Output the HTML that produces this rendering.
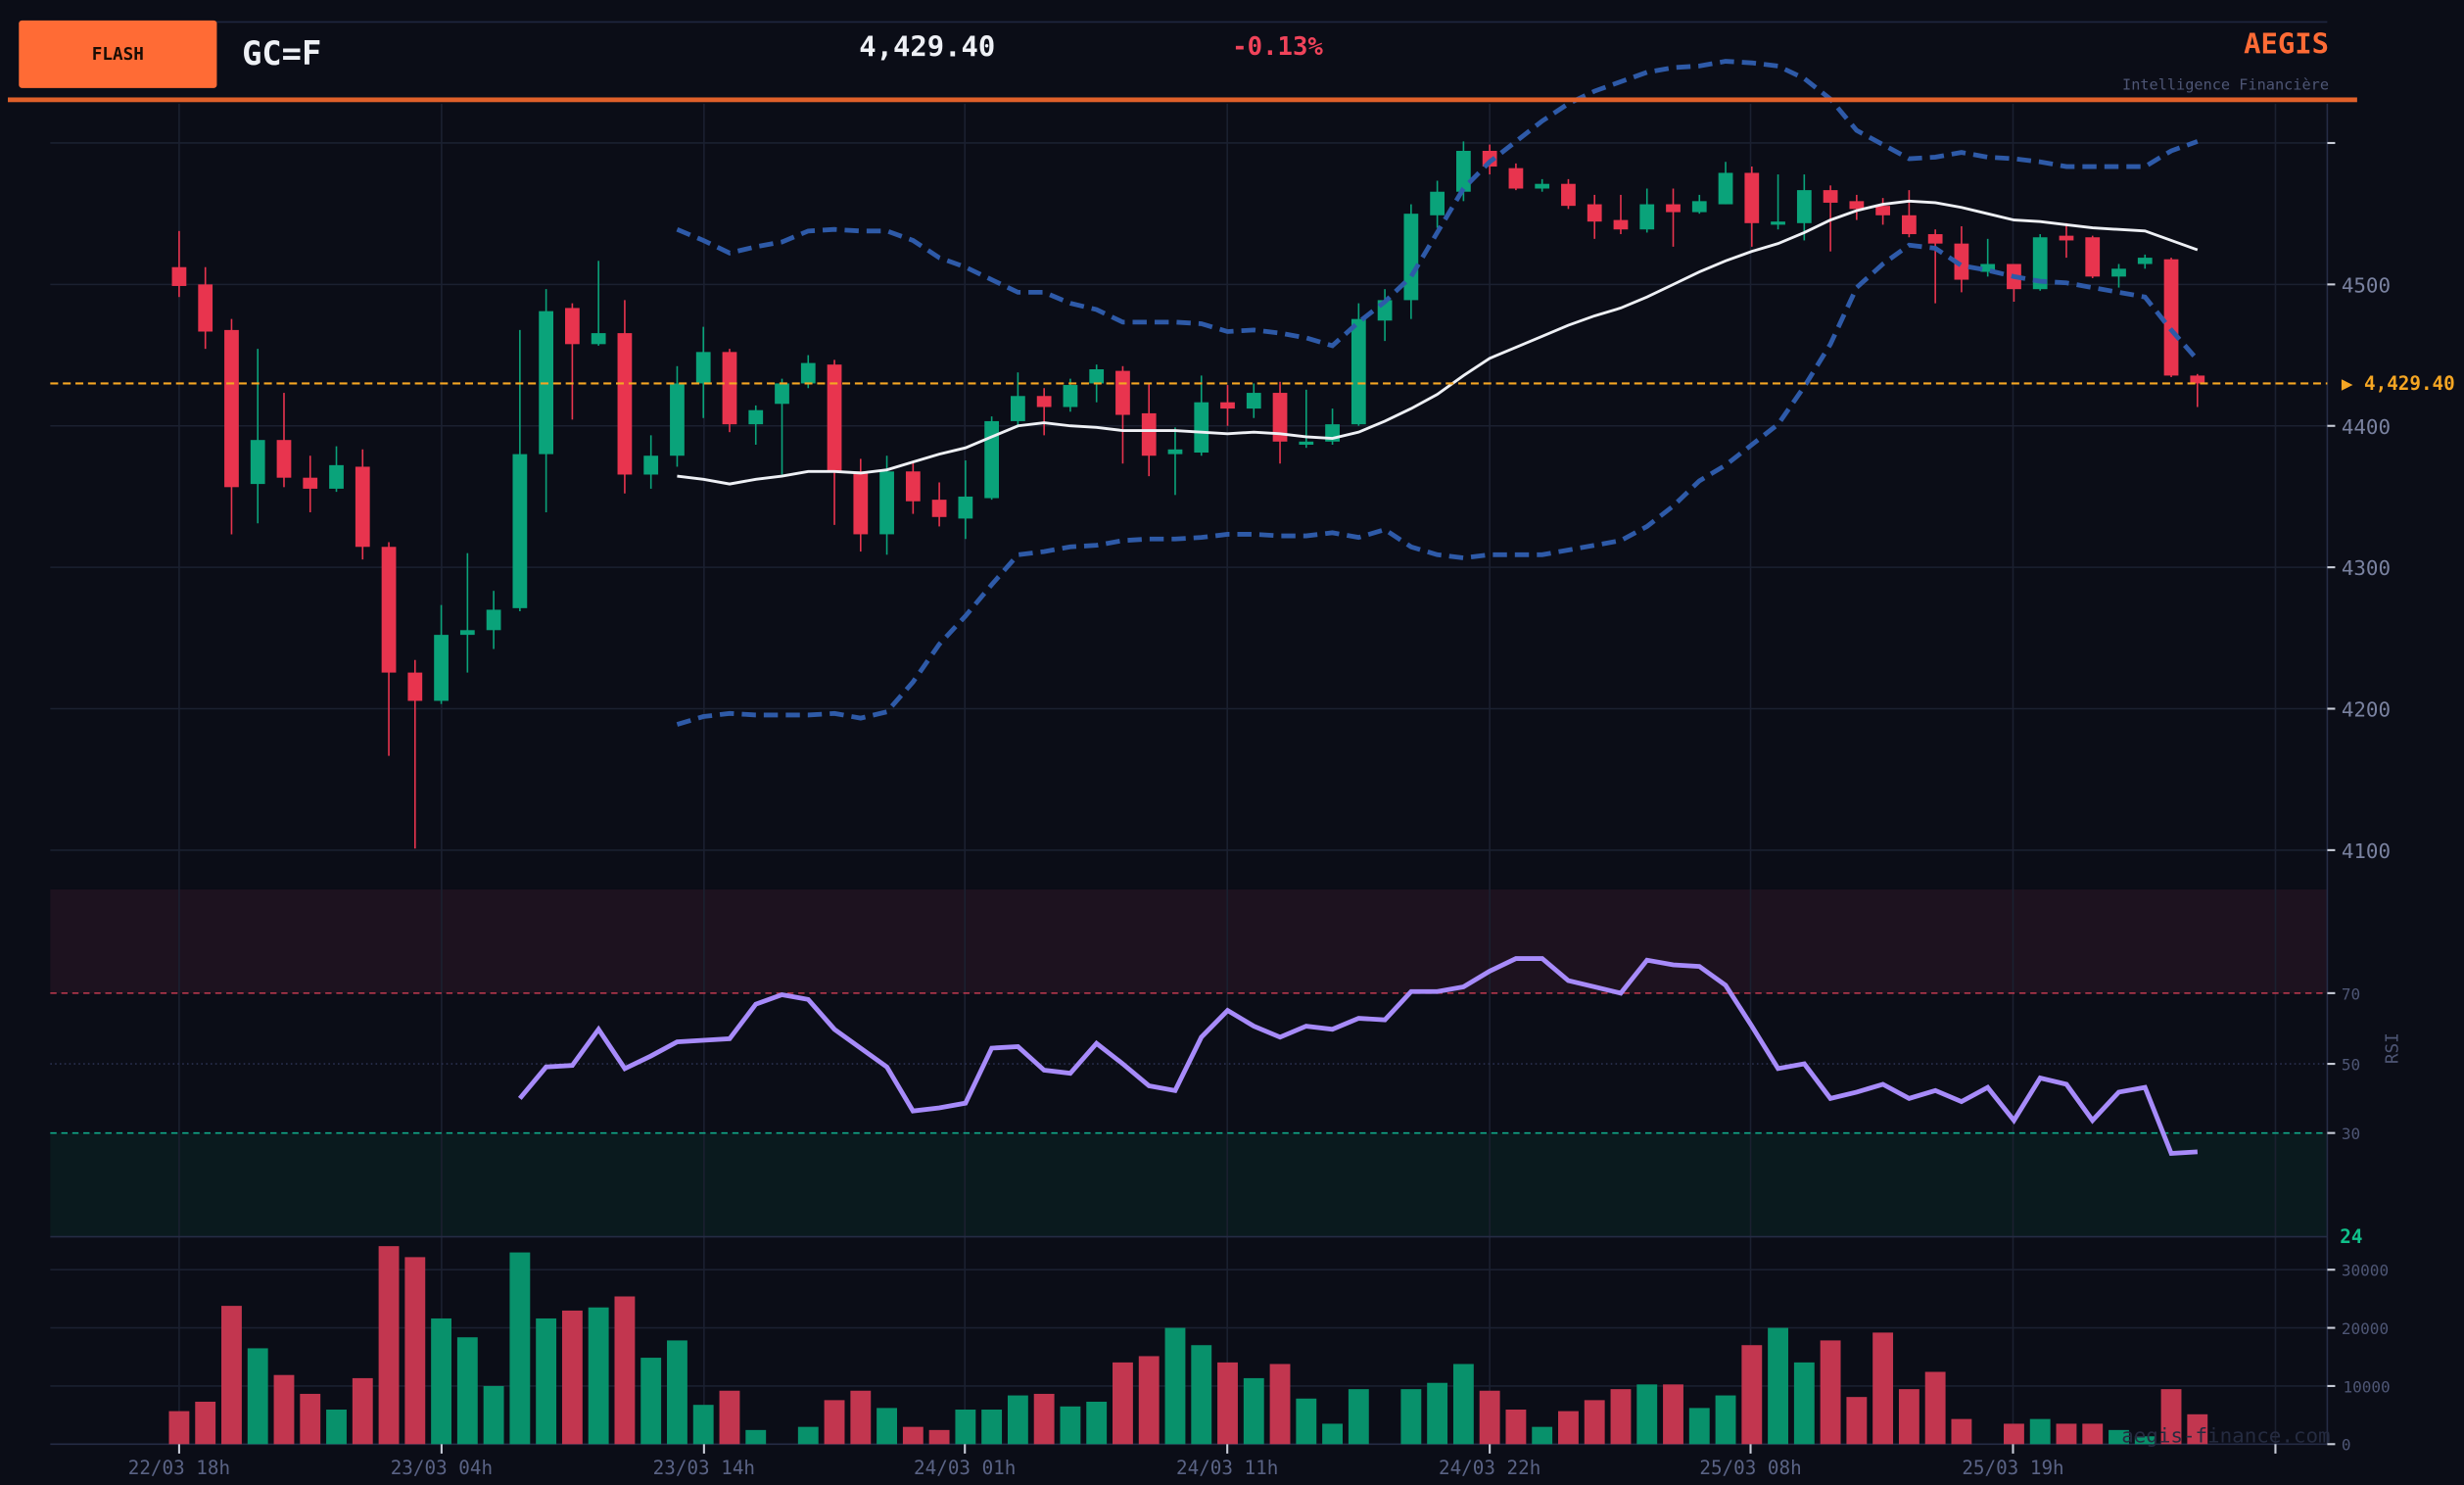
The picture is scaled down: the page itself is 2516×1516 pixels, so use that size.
<!DOCTYPE html>
<html><head><meta charset="utf-8"><style>
html,body{margin:0;padding:0;background:#0b0d17;}
svg{display:block}
text{font-family:"DejaVu Sans Mono","Liberation Mono",monospace;}
</style></head><body>
<svg id="s" width="2516" height="1516" viewBox="0 0 1568 945" preserveAspectRatio="none" xmlns="http://www.w3.org/2000/svg">
<rect x="0" y="0" width="1568" height="945" fill="#0b0d17"/>
<rect x="32" y="566" width="1449" height="66" fill="#1d121f"/>
<rect x="32" y="721" width="1449" height="66" fill="#0a1a1e"/>
<g id="grid" stroke="#1b2030" stroke-width="1"></g>
<line x1="32" y1="14" x2="1481" y2="14" stroke="#1f2740" stroke-width="1"/>
<line x1="1481" y1="66" x2="1481" y2="919" stroke="#252c45" stroke-width="1"/>
<line x1="32" y1="787" x2="1481" y2="787" stroke="#252c45" stroke-width="1"/>
<line x1="32" y1="919" x2="1481" y2="919" stroke="#252c45" stroke-width="1"/>
<line x1="32" y1="632" x2="1481" y2="632" stroke="#c0394f" stroke-width="1" stroke-dasharray="4,3"/>
<line x1="32" y1="677" x2="1481" y2="677" stroke="#2a3050" stroke-width="1" stroke-dasharray="1,2"/>
<line x1="32" y1="721" x2="1481" y2="721" stroke="#10a888" stroke-width="1" stroke-dasharray="4,3"/>
<g id="vol"></g>
<g id="cnd"></g>
<polyline id="up" fill="none" stroke="#2e5aa8" stroke-width="3" stroke-dasharray="9,5"/>
<polyline id="lo" fill="none" stroke="#2e5aa8" stroke-width="3" stroke-dasharray="9,5"/>
<polyline id="ma" fill="none" stroke="#eef0f5" stroke-width="1.8"/>
<polyline id="rsi" fill="none" stroke="#a78bfa" stroke-width="3"/>
<line x1="32" y1="244" x2="1481" y2="244" stroke="#f5a623" stroke-width="1.3" stroke-dasharray="5,3"/>
<g id="ticks" stroke="#c8ccd8" stroke-width="1.3"></g>
<g fill="#7a82a0" font-size="13">
<text x="1490" y="186">4500</text><text x="1490" y="276">4400</text><text x="1490" y="366">4300</text><text x="1490" y="456">4200</text><text x="1490" y="546">4100</text>
</g>
<text x="1490" y="248" fill="#f5a623" font-size="12" font-weight="bold">▶ 4,429.40</text>
<g fill="#4e5675" font-size="10">
<text x="1490" y="636">70</text><text x="1490" y="681">50</text><text x="1490" y="725">30</text>
<text x="1490" y="812">30000</text><text x="1490" y="849">20000</text><text x="1491" y="886">10000</text><text x="1490" y="923">0</text>
</g>
<text x="1517" y="686" fill="#4e5675" font-size="11" transform="rotate(-90 1517 677)">RSI</text>
<text x="1489" y="791" fill="#10c08a" font-size="12" font-weight="bold">24</text>
<text x="1350" y="918" fill="#252b40" font-size="13">aegis-finance.com</text>
<g fill="#5a6385" font-size="12" text-anchor="middle">
<text x="114" y="938">22/03 18h</text><text x="281" y="938">23/03 04h</text><text x="448" y="938">23/03 14h</text><text x="614" y="938">24/03 01h</text><text x="781" y="938">24/03 11h</text><text x="948" y="938">24/03 22h</text><text x="1114" y="938">25/03 08h</text><text x="1281" y="938">25/03 19h</text>
</g>
<rect x="12" y="13" width="126" height="43" rx="2" fill="#ff6b35"/>
<text x="75" y="38" fill="#1a0d05" font-size="11" font-weight="bold" text-anchor="middle">FLASH</text>
<text x="154" y="41" fill="#eef0f5" font-size="21" font-weight="bold">GC=F</text>
<text x="590" y="36" fill="#eef0f5" font-size="18" font-weight="bold" text-anchor="middle">4,429.40</text>
<text x="813" y="35" fill="#f0435a" font-size="16" font-weight="bold" text-anchor="middle">-0.13%</text>
<text x="1482" y="34" fill="#ff6b35" font-size="18" font-weight="bold" text-anchor="end">AEGIS</text>
<text x="1482" y="57" fill="#4e5675" font-size="9.5" text-anchor="end">Intelligence Financière</text>
<rect x="5" y="62" width="1495" height="3" fill="#e0602a"/>
</svg>
<script>
var NS="http://www.w3.org/2000/svg";
function el(p,t,a){var e=document.createElementNS(NS,t);for(var k in a)e.setAttribute(k,a[k]);document.getElementById(p).appendChild(e);}
[114,281,448,614,781,948,1114,1281,1448].forEach(function(x){el("grid","line",{x1:x,y1:66,x2:x,y2:919});el("ticks","line",{x1:x,y1:919,x2:x,y2:925});});
[91,181,271,361,451,541,808,845,882].forEach(function(y){el("grid","line",{x1:32,y1:y,x2:1481,y2:y});});
[91,181,271,361,451,541,632,677,721,808,845,882,919].forEach(function(y){el("ticks","line",{x1:1481,y1:y,x2:1486,y2:y});});
var G="#0aa37a",R="#e8344e";
var C=[[0,170,182,147,189],[0,181,211,170,222],[0,210,310,203,340],[1,280,308,222,333],[0,280,304,250,310],[0,304,311,290,326],[1,296,311,284,313],[0,297,348,286,356],[0,348,428,345,481],[0,428,446,420,540],[1,404,446,385,448],[1,401,404,352,428],[1,388,401,376,413],[1,289,387,210,389],[1,198,289,184,326],[0,196,219,193,267],[1,212,219,166,220],[0,212,302,191,314],[1,290,302,277,311],[1,244,290,233,297],[1,224,244,208,266],[0,224,270,222,275],[1,261,270,258,283],[1,244,257,241,302],[1,231,244,226,247],[0,232,300,229,334],[0,300,340,292,351],[1,300,340,290,353],[0,300,319,294,327],[0,318,329,307,335],[1,316,330,293,343],[1,268,317,265,318],[1,252,268,237,272],[0,252,259,247,277],[1,245,259,241,262],[1,235,244,232,256],[0,236,264,233,295],[0,263,290,244,303],[1,286,289,272,315],[1,256,288,239,290],[0,256,260,245,271],[1,250,260,244,266],[0,250,281,243,295],[1,281,283,248,285],[1,270,281,260,283],[1,203,270,193,271],[1,191,204,184,217],[1,136,191,130,203],[1,122,137,115,145],[1,96,122,90,128],[0,96,106,92,111],[0,107,120,104,121],[1,117,120,114,122],[0,117,131,114,133],[0,130,141,124,152],[0,140,146,124,149],[1,130,146,120,148],[0,130,135,120,157],[1,128,135,124,136],[1,110,130,103,130],[0,110,142,106,157],[1,141,143,111,146],[1,121,142,111,153],[0,121,129,118,160],[0,128,133,124,140],[0,131,137,126,143],[0,137,149,121,151],[0,149,155,146,193],[0,155,178,144,186],[1,168,173,152,176],[0,168,184,168,192],[1,151,184,149,185],[0,150,153,142,164],[0,151,176,150,177],[1,171,176,168,183],[1,164,168,162,171],[0,165,239,164,240],[0,239,244,238,259]];
var V=[[0,898],[0,892],[0,831],[1,858],[0,875],[0,887],[1,897],[0,877],[0,793],[0,800],[1,839],[1,851],[1,882],[1,797],[1,839],[0,834],[1,832],[0,825],[1,864],[1,853],[1,894],[0,885],[1,910],[1,919],[1,908],[0,891],[0,885],[1,896],[0,908],[0,910],[1,897],[1,897],[1,888],[0,887],[1,895],[1,892],[0,867],[0,863],[1,845],[1,856],[0,867],[1,877],[0,868],[1,890],[1,906],[1,884],[1,919],[1,884],[1,880],[1,868],[0,885],[0,897],[1,908],[0,898],[0,891],[0,884],[1,881],[0,881],[1,896],[1,888],[0,856],[1,845],[1,867],[0,853],[0,889],[0,848],[0,884],[0,873],[0,903],[0,919],[0,906],[1,903],[0,906],[0,906],[1,910],[1,914],[0,884],[0,900]];
function X(i){return 114+i*16.68;}
C.forEach(function(c,i){var x=X(i),col=c[0]?G:R;
el("cnd","line",{x1:x,y1:c[3],x2:x,y2:c[4],stroke:col,"stroke-width":1});
el("cnd","rect",{x:x-4.6,y:c[1],width:9.2,height:Math.max(2,c[2]-c[1]),fill:col});});
V.forEach(function(v,i){if(v[1]<919)el("vol","rect",{x:X(i)-6.5,y:v[1],width:13,height:919-v[1],fill:v[0]?"#08916b":"#c2364f"});});
function pts(id,start,arr){document.getElementById(id).setAttribute("points",arr.map(function(y,k){return X(start+k).toFixed(1)+","+y;}).join(" "));}
pts("ma",19,[303,305,308,305,303,300,300,301,299,294,289,285,278,271,269,271,272,274,274,274,275,276,275,276,278,279,275,268,260,251,239,228,221,214,207,201,196,189,181,173,166,160,155,148,140,134,130,128,129,132,136,140,141,143,145,146,147,153,159]);
pts("up",19,[146,153,161,157,154,147,146,147,147,153,164,170,178,186,186,193,197,205,205,205,206,211,210,212,215,220,205,192,176,148,120,103,90,77,66,58,52,46,43,42,39,40,42,50,63,83,92,101,100,97,100,101,103,106,106,106,106,96,90]);
pts("lo",19,[461,456,454,455,455,455,454,457,453,434,410,392,372,353,351,348,347,344,343,343,342,340,340,341,341,339,342,337,348,353,355,353,353,353,350,347,344,335,322,306,296,283,270,246,219,183,168,156,158,169,172,176,179,180,183,186,189,210,229]);
pts("rsi",13,[699,679,678,655,680,672,663,662,661,639,633,636,655,667,679,707,705,702,667,666,681,683,664,677,691,694,660,643,653,660,653,655,648,649,631,631,628,618,610,610,624,628,632,611,614,615,627,653,680,677,699,695,690,699,694,701,692,713,686,690,713,695,692,734,733]);
</script>
</body></html>
